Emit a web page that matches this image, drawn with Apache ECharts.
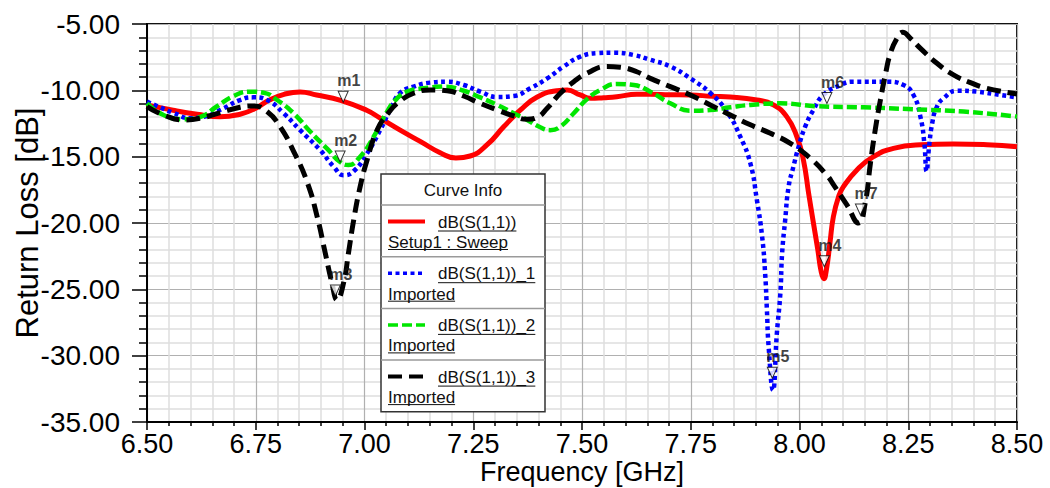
<!DOCTYPE html>
<html>
<head>
<meta charset="utf-8">
<script src="https://cdn.jsdelivr.net/npm/echarts@6/dist/echarts.min.js"></script>
<style>
  html, body { margin: 0; padding: 0; background: #fff; }
  #chart { width: 1050px; height: 488px; }
</style>
</head>
<body>
<div id="chart"></div>
<script>
// dB(S(1,1)) - Setup1 : Sweep
const redFreq = [6.50, 6.56, 6.615, 6.668, 6.714, 6.75, 6.78, 6.815, 6.852, 6.89, 6.945, 7.005, 7.036, 7.082, 7.128, 7.174, 7.21, 7.243, 7.282, 7.32, 7.358, 7.397, 7.443, 7.466, 7.496, 7.52, 7.55, 7.58, 7.626, 7.657, 7.70, 7.749, 7.80, 7.841, 7.902, 7.94, 7.971, 7.994, 8.009, 8.021, 8.032, 8.042, 8.05, 8.056, 8.062, 8.07, 8.078, 8.09, 8.101, 8.132, 8.17, 8.216, 8.278, 8.354, 8.431, 8.50];
const redDb = [-11.1, -11.5, -11.8, -12.0, -11.8, -11.35, -10.75, -10.3, -10.12, -10.35, -10.75, -11.5, -12.1, -13.0, -13.85, -14.7, -15.1, -14.95, -14.1, -12.75, -11.5, -10.5, -10.03, -9.98, -10.35, -10.6, -10.55, -10.48, -10.3, -10.3, -10.33, -10.35, -10.45, -10.5, -10.73, -11.1, -12.0, -13.5, -15.25, -17.76, -20.0, -22.0, -23.7, -24.2, -23.5, -21.5, -19.5, -18.0, -17.26, -16.0, -15.0, -14.37, -14.1, -14.04, -14.1, -14.25];

// dB(S(1,1))_1 - Imported
const blueFreq = [6.50, 6.53, 6.561, 6.60, 6.63, 6.676, 6.714, 6.745, 6.776, 6.814, 6.852, 6.898, 6.929, 6.952, 6.975, 7.006, 7.036, 7.06, 7.082, 7.113, 7.151, 7.19, 7.228, 7.266, 7.305, 7.343, 7.381, 7.42, 7.458, 7.496, 7.534, 7.573, 7.619, 7.657, 7.703, 7.749, 7.795, 7.833, 7.864, 7.887, 7.902, 7.914, 7.921, 7.925, 7.929, 7.939, 7.948, 7.956, 7.96, 7.967, 7.975, 7.986, 7.998, 8.013, 8.032, 8.055, 8.094, 8.124, 8.201, 8.239, 8.262, 8.278, 8.287, 8.292, 8.298, 8.305, 8.315, 8.331, 8.362, 8.408, 8.462, 8.50];
const blueDb = [-10.85, -11.28, -11.7, -12.1, -12.0, -11.35, -10.73, -10.53, -10.73, -11.73, -13.0, -14.5, -15.75, -16.4, -16.1, -14.75, -13.0, -11.4, -10.2, -9.72, -9.42, -9.35, -9.6, -10.1, -10.5, -10.43, -9.85, -9.1, -8.2, -7.46, -7.2, -7.16, -7.34, -7.7, -8.2, -9.1, -10.2, -11.6, -13.5, -15.5, -18.26, -21.0, -23.8, -26.5, -29.3, -32.6, -28.3, -25.3, -22.3, -19.8, -17.26, -15.75, -14.25, -12.74, -11.48, -10.35, -9.6, -9.35, -9.35, -9.6, -10.35, -12.0, -14.0, -16.1, -14.2, -12.5, -11.3, -10.6, -10.03, -10.1, -10.35, -10.53];

// dB(S(1,1))_2 - Imported
const greenFreq = [6.50, 6.538, 6.584, 6.623, 6.661, 6.699, 6.737, 6.768, 6.799, 6.837, 6.875, 6.914, 6.944, 6.963, 6.99, 7.021, 7.052, 7.075, 7.098, 7.136, 7.182, 7.228, 7.266, 7.305, 7.343, 7.374, 7.404, 7.427, 7.45, 7.481, 7.511, 7.542, 7.58, 7.619, 7.657, 7.703, 7.749, 7.795, 7.841, 7.887, 7.956, 8.04, 8.147, 8.262, 8.377, 8.50];
const greenDb = [-10.98, -11.86, -12.18, -12.0, -11.2, -10.43, -10.1, -10.18, -10.73, -11.73, -13.1, -14.4, -15.4, -15.63, -15.0, -13.5, -11.6, -10.6, -10.1, -9.85, -9.72, -10.03, -10.53, -11.1, -11.73, -12.23, -12.78, -13.0, -12.74, -11.73, -10.68, -9.98, -9.52, -9.6, -10.1, -10.98, -11.53, -11.48, -11.28, -11.1, -10.98, -11.2, -11.28, -11.43, -11.6, -11.98];

// dB(S(1,1))_3 - Imported
const blackFreq = [6.50, 6.538, 6.584, 6.623, 6.668, 6.714, 6.745, 6.776, 6.806, 6.837, 6.868, 6.891, 6.91, 6.925, 6.937, 6.952, 6.963, 6.975, 6.99, 7.006, 7.029, 7.055, 7.082, 7.113, 7.151, 7.19, 7.228, 7.266, 7.305, 7.343, 7.374, 7.397, 7.42, 7.45, 7.481, 7.511, 7.557, 7.588, 7.626, 7.657, 7.703, 7.749, 7.795, 7.841, 7.887, 7.933, 7.979, 8.025, 8.063, 8.078, 8.109, 8.136, 8.151, 8.163, 8.174, 8.186, 8.198, 8.209, 8.224, 8.237, 8.255, 8.278, 8.316, 8.354, 8.393, 8.431, 8.50];
const blackDb = [-11.23, -11.86, -12.23, -12.1, -11.68, -11.28, -11.18, -11.6, -12.74, -14.6, -16.9, -19.5, -22.3, -24.5, -25.8, -24.5, -22.3, -19.8, -17.26, -15.25, -13.0, -11.7, -10.8, -10.22, -9.97, -10.03, -10.43, -10.98, -11.48, -11.93, -12.18, -12.03, -11.35, -10.22, -9.35, -8.72, -8.2, -8.26, -8.6, -9.1, -9.72, -10.35, -11.1, -11.86, -12.6, -13.24, -14.0, -15.12, -16.4, -17.1, -18.64, -20.0, -18.5, -15.5, -13.0, -10.73, -8.72, -7.2, -6.08, -5.63, -6.08, -6.84, -7.96, -8.84, -9.42, -9.85, -10.28];

// markers
const markerNames = ['m1', 'm2', 'm3', 'm4', 'm5', 'm6', 'm7'];
const markerFreq = [6.951, 6.944, 6.933, 8.057, 7.9375, 8.063, 8.14];
const markerDb = [-10.9, -15.4, -25.5, -23.3, -31.7, -11.0, -19.4];

// legend ("Curve Info") texts
const legendTitles = ['dB(S(1,1))', 'dB(S(1,1))_1', 'dB(S(1,1))_2', 'dB(S(1,1))_3'];
const legendSources = ['Setup1 : Sweep', 'Imported', 'Imported', 'Imported'];

const FONT = '"Liberation Sans", Arial, sans-serif';
const seriesStyles = [
  { color: '#ff0000', width: 5, type: 'solid' },
  { color: '#0000ff', width: 4.5, type: [4, 3.5] },
  { color: '#00e600', width: 4.5, type: [10, 4] },
  { color: '#000000', width: 5, type: [14, 7] },
];
const curves = [
  [redFreq, redDb],
  [blueFreq, blueDb],
  [greenFreq, greenDb],
  [blackFreq, blackDb],
];

const chart = echarts.init(document.getElementById('chart'), null, { renderer: 'svg' });

// measure text for the underlines in the legend box
const measureCtx = document.createElement('canvas').getContext('2d');
measureCtx.font = '17px ' + FONT;
const textWidth = (t) => measureCtx.measureText(t).width;

function buildLegend() {
  const x0 = 381, y0 = 174, w = 164, headH = 31, rowH = 51.7;
  const h = headH + rowH * legendTitles.length;
  const els = [
    { type: 'rect', shape: { x: x0, y: y0, width: w, height: h },
      style: { fill: '#fff', stroke: '#333', lineWidth: 1.5 }, z: 100 },
    { type: 'text', z: 101,
      style: { text: 'Curve Info', x: x0 + w / 2, y: y0 + headH / 2 + 1, fill: '#111',
        font: '17px ' + FONT, textAlign: 'center', textVerticalAlign: 'middle',
        align: 'center', verticalAlign: 'middle' } },
  ];
  legendTitles.forEach((title, i) => {
    const top = y0 + headH + rowH * i;
    const st = seriesStyles[i];
    els.push({ type: 'line', z: 101, shape: { x1: x0, y1: top, x2: x0 + w, y2: top },
      style: { stroke: '#9a9a9a', lineWidth: 1.5 } });
    els.push({ type: 'line', z: 101, shape: { x1: 388, y1: top + 16.5, x2: 425, y2: top + 16.5 },
      style: { stroke: st.color, lineWidth: st.width - 1, lineDash: st.type === 'solid' ? null : st.type } });
    const tx = 438, sx = 388;
    els.push({ type: 'text', z: 101,
      style: { text: title, x: tx, y: top + 17, fill: '#111', font: '17px ' + FONT,
        textVerticalAlign: 'middle', verticalAlign: 'middle' } });
    els.push({ type: 'line', z: 101, shape: { x1: tx, y1: top + 26, x2: tx + textWidth(title), y2: top + 26 },
      style: { stroke: '#111', lineWidth: 1 } });
    els.push({ type: 'text', z: 101,
      style: { text: legendSources[i], x: sx, y: top + 37.5, fill: '#111', font: '17px ' + FONT,
        textVerticalAlign: 'middle', verticalAlign: 'middle' } });
    els.push({ type: 'line', z: 101, shape: { x1: sx, y1: top + 44.5, x2: sx + textWidth(legendSources[i]), y2: top + 44.5 },
      style: { stroke: '#111', lineWidth: 1 } });
  });
  return els;
}

const option = {
  animation: false,
  backgroundColor: '#fff',
  textStyle: { fontFamily: FONT },
  grid: {
    left: 147, right: 33, top: 24, bottom: 66,
    containLabel: false,
    outerBoundsMode: 'none',
    show: true, borderColor: '#111', borderWidth: 2,
  },
  xAxis: {
    type: 'value',
    min: 6.5,
    max: 8.5,
    interval: 0.25,
    name: 'Frequency [GHz]',
    nameLocation: 'middle',
    nameGap: 36,
    nameMoveOverlap: false,
    nameTextStyle: { fontSize: 27, color: '#000', fontFamily: FONT },
    axisLine: { onZero: false, lineStyle: { color: '#000', width: 2 } },
    axisTick: { length: 8, lineStyle: { color: '#000', width: 1.5 } },
    minorTick: { show: true, splitNumber: 5, length: 4, lineStyle: { color: '#000', width: 1.5 } },
    axisLabel: { fontSize: 27, color: '#000', margin: 8, formatter: (v) => v.toFixed(2) },
    splitLine: { show: true, lineStyle: { color: '#b0b0b0', width: 1.2 } },
    minorSplitLine: { show: true, lineStyle: { color: '#dedede', width: 1.5 } },
  },
  yAxis: {
    type: 'value',
    min: -35,
    max: -5,
    interval: 5,
    name: 'Return Loss [dB]',
    nameLocation: 'middle',
    nameGap: 104,
    nameMoveOverlap: false,
    nameTextStyle: { fontSize: 31, color: '#000', fontFamily: FONT },
    axisLine: { onZero: false, lineStyle: { color: '#000', width: 2 } },
    axisTick: { length: 15, lineStyle: { color: '#000', width: 1.5 } },
    minorTick: { show: true, splitNumber: 5, length: 8, lineStyle: { color: '#000', width: 1.5 } },
    axisLabel: { fontSize: 28, color: '#000', margin: 27, formatter: (v) => v.toFixed(2) },
    splitLine: { show: true, lineStyle: { color: '#b0b0b0', width: 1.2 } },
    minorSplitLine: { show: true, lineStyle: { color: '#dedede', width: 1.5 } },
  },
  series: [
    ...curves.map(([fr, db], i) => ({
      type: 'line',
      name: legendTitles[i],
      showSymbol: false,
      symbol: 'none',
      smooth: 0.5,
      z: 2 + i,
      lineStyle: { color: seriesStyles[i].color, width: seriesStyles[i].width, type: seriesStyles[i].type, cap: 'butt', join: 'round' },
      data: fr.map((f, k) => [f, db[k]]),
    })),
    {
      type: 'scatter',
      name: 'markers',
      z: 10,
      symbol: 'triangle',
      symbolRotate: 180,
      symbolSize: [10, 11],
      symbolOffset: [0, -5.5],
      itemStyle: { color: '#fff', borderColor: '#000', borderWidth: 1 },
      label: {
        show: true,
        position: 'top',
        align: 'left',
        offset: [-6, 1],
        distance: 3,
        fontSize: 16,
        fontWeight: 'bold',
        color: '#111',
        fontFamily: FONT,
        formatter: (p) => p.data[2],
      },
      data: markerFreq.map((f, i) => [f, markerDb[i], markerNames[i]]),
    },
  ],
  graphic: buildLegend(),
};

chart.setOption(option);
</script>
</body>
</html>
